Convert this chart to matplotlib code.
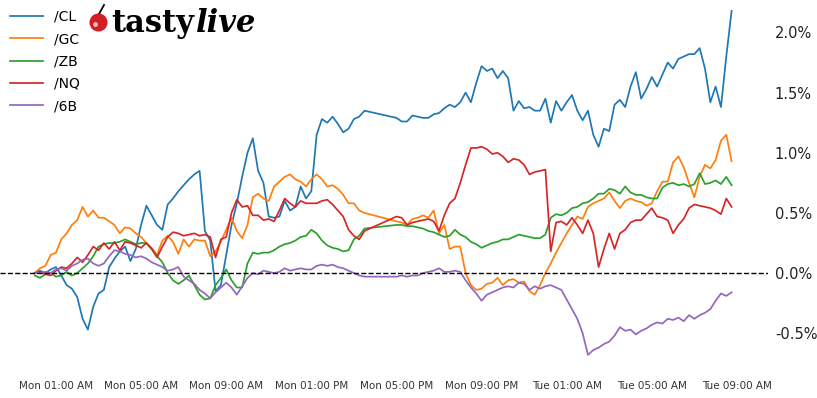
import numpy as np
import matplotlib
matplotlib.use('Agg')
import matplotlib.pyplot as plt
from matplotlib.ticker import FuncFormatter

# hours since Mon 00:00, with the daily break (no data between 15:30 and 17:00)
hours = np.concatenate([np.arange(0, 15.51, 0.25), np.arange(17, 32.76, 0.25)])

tick_hours = [1, 5, 9, 13, 17, 21, 25, 29, 33]
tick_labels = ['Mon 01:00 AM', 'Mon 05:00 AM', 'Mon 09:00 AM', 'Mon 01:00 PM',
               'Mon 05:00 PM', 'Mon 09:00 PM', 'Tue 01:00 AM', 'Tue 05:00 AM',
               'Tue 09:00 AM']

# percent change from start
cl = [0.00, 0.02, 0.00, 0.03, 0.05, -0.02, -0.10, -0.13, -0.20, -0.38,
      -0.47, -0.28, -0.17, -0.14, 0.05, 0.12, 0.18, 0.22, 0.10, 0.20,
      0.40, 0.56, 0.48, 0.40, 0.36, 0.57, 0.62, 0.68, 0.73, 0.78,
      0.82, 0.85, 0.35, 0.27, -0.15, -0.10, 0.15, 0.40, 0.58, 0.80,
      1.00, 1.12, 0.85, 0.75, 0.47, 0.46, 0.47, 0.60, 0.52, 0.55,
      0.72, 0.62, 0.68, 1.15, 1.28, 1.25, 1.30, 1.24, 1.17, 1.20,
      1.28, 1.30, 1.35,
      1.29, 1.26, 1.26, 1.31, 1.30, 1.29, 1.29, 1.32, 1.33, 1.37,
      1.40, 1.38, 1.42, 1.50, 1.42, 1.58, 1.72, 1.68, 1.70, 1.62,
      1.68, 1.62, 1.35, 1.43, 1.37, 1.38, 1.35, 1.35, 1.45, 1.25,
      1.43, 1.35, 1.42, 1.48, 1.35, 1.27, 1.35, 1.15, 1.05, 1.20,
      1.18, 1.40, 1.44, 1.38, 1.55, 1.67, 1.45, 1.53, 1.63, 1.55,
      1.65, 1.75, 1.70, 1.78, 1.80, 1.82, 1.82, 1.87, 1.70, 1.42,
      1.55, 1.38, 1.80, 2.18]

gc = [0.00, 0.04, 0.06, 0.15, 0.17, 0.28, 0.33, 0.40, 0.44, 0.55,
      0.47, 0.52, 0.46, 0.46, 0.43, 0.40, 0.33, 0.38, 0.37, 0.33,
      0.30, 0.25, 0.21, 0.15, 0.27, 0.31, 0.26, 0.16, 0.28, 0.22,
      0.28, 0.27, 0.27, 0.14, 0.18, 0.26, 0.36, 0.46, 0.35, 0.29,
      0.40, 0.63, 0.66, 0.62, 0.60, 0.72, 0.76, 0.80, 0.82, 0.78,
      0.76, 0.72, 0.78, 0.82, 0.78, 0.72, 0.73, 0.70, 0.65, 0.58,
      0.58, 0.52, 0.50,
      0.43, 0.42, 0.40, 0.45, 0.46, 0.48, 0.46, 0.52, 0.33, 0.40,
      0.20, 0.22, 0.22, 0.00, -0.10, -0.14, -0.13, -0.09, -0.08, -0.04,
      -0.10, -0.06, -0.05, -0.08, -0.07, -0.15, -0.18, -0.10, 0.00, 0.08,
      0.17, 0.25, 0.33, 0.40, 0.47, 0.45, 0.55, 0.58, 0.60, 0.62,
      0.67, 0.60, 0.54, 0.60, 0.62, 0.60, 0.59, 0.56, 0.58, 0.68,
      0.76, 0.76, 0.92, 0.97, 0.88, 0.75, 0.63, 0.80, 0.90, 0.87,
      0.94, 1.10, 1.15, 0.93]

zb = [-0.02, -0.04, -0.01, 0.00, -0.03, -0.02, 0.01, -0.02, 0.00, 0.04,
      0.08, 0.14, 0.22, 0.24, 0.25, 0.25, 0.26, 0.28, 0.26, 0.24,
      0.25, 0.25, 0.20, 0.14, 0.09, 0.00, -0.06, -0.09, -0.06, -0.02,
      -0.10, -0.18, -0.22, -0.21, -0.10, -0.04, 0.03, -0.06, -0.12, -0.12,
      0.08, 0.17, 0.16, 0.17, 0.17, 0.19, 0.22, 0.24, 0.25, 0.27,
      0.30, 0.31, 0.36, 0.33, 0.27, 0.23, 0.21, 0.20, 0.18, 0.19,
      0.28, 0.31, 0.37,
      0.40, 0.40, 0.39, 0.39, 0.38, 0.37, 0.35, 0.34, 0.32, 0.30,
      0.31, 0.36, 0.32, 0.30, 0.26, 0.24, 0.21, 0.23, 0.25, 0.26,
      0.28, 0.28, 0.30, 0.32, 0.31, 0.30, 0.29, 0.29, 0.32, 0.46,
      0.49, 0.48, 0.50, 0.54, 0.55, 0.58, 0.59, 0.62, 0.66, 0.66,
      0.70, 0.69, 0.66, 0.72, 0.67, 0.65, 0.65, 0.63, 0.62, 0.62,
      0.71, 0.74, 0.75, 0.73, 0.74, 0.72, 0.74, 0.83, 0.74, 0.75,
      0.77, 0.74, 0.80, 0.73]

nq = [0.00, 0.01, -0.01, -0.02, 0.02, 0.05, 0.04, 0.08, 0.13, 0.09,
      0.15, 0.22, 0.19, 0.25, 0.20, 0.26, 0.19, 0.26, 0.25, 0.23,
      0.21, 0.25, 0.20, 0.13, 0.22, 0.30, 0.34, 0.33, 0.31, 0.32,
      0.33, 0.31, 0.32, 0.30, 0.13, 0.28, 0.30, 0.50, 0.61, 0.55,
      0.56, 0.48, 0.48, 0.44, 0.45, 0.43, 0.52, 0.62, 0.58, 0.55,
      0.60, 0.58, 0.58, 0.58, 0.60, 0.61, 0.57, 0.52, 0.47, 0.36,
      0.31, 0.28, 0.35,
      0.47, 0.46, 0.40, 0.42, 0.43, 0.44, 0.45, 0.43, 0.35, 0.48,
      0.58, 0.62, 0.75, 0.90, 1.04, 1.04, 1.05, 1.03, 0.99, 1.00,
      0.97, 0.92, 0.95, 0.94, 0.90, 0.82, 0.84, 0.85, 0.86, 0.18,
      0.42, 0.43, 0.40, 0.46, 0.40, 0.33, 0.44, 0.33, 0.05, 0.20,
      0.33, 0.20, 0.33, 0.36, 0.42, 0.44, 0.44, 0.49, 0.54, 0.47,
      0.46, 0.44, 0.33, 0.40, 0.45, 0.54, 0.57, 0.56, 0.55, 0.54,
      0.52, 0.49, 0.62, 0.55]

b6 = [0.00, 0.00, 0.01, 0.00, 0.03, 0.04, 0.02, 0.06, 0.08, 0.11,
      0.12, 0.08, 0.06, 0.08, 0.14, 0.19, 0.18, 0.16, 0.15, 0.13,
      0.14, 0.12, 0.09, 0.07, 0.05, 0.02, 0.03, 0.05, -0.03, -0.06,
      -0.09, -0.14, -0.17, -0.21, -0.16, -0.12, -0.08, -0.12, -0.18, -0.11,
      -0.04, 0.00, -0.01, 0.02, 0.01, 0.00, 0.01, 0.04, 0.02, 0.03,
      0.04, 0.03, 0.03, 0.06, 0.07, 0.06, 0.07, 0.05, 0.04, 0.02,
      0.00, -0.02, -0.03,
      -0.03, -0.02, -0.03, -0.02, -0.02, 0.00, 0.01, 0.02, 0.04, 0.01,
      0.01, 0.02, 0.01, -0.06, -0.12, -0.17, -0.23, -0.18, -0.16, -0.14,
      -0.12, -0.11, -0.12, -0.08, -0.09, -0.14, -0.11, -0.13, -0.11, -0.10,
      -0.12, -0.14, -0.22, -0.30, -0.38, -0.50, -0.68, -0.64, -0.62, -0.59,
      -0.57, -0.52, -0.45, -0.48, -0.47, -0.51, -0.48, -0.46, -0.43, -0.41,
      -0.42, -0.38, -0.39, -0.37, -0.40, -0.35, -0.38, -0.35, -0.33, -0.30,
      -0.23, -0.17, -0.19, -0.16]

series = [('/CL', cl, 'tab:blue'), ('/GC', gc, 'tab:orange'), ('/ZB', zb, 'tab:green'),
          ('/NQ', nq, 'tab:red'), ('/6B', b6, 'tab:purple')]

fig = plt.figure(figsize=(8.17, 3.98), dpi=100)
ax = fig.add_axes([0.0, 0.06, 0.94, 0.94])

for name, vals, col in series:
    ax.plot(hours[:len(vals)], vals, color=col, lw=1.25, label=name)

ax.axhline(0, color='black', ls='--', lw=1)

ax.set_xlim(-1.63, 34.46)
ax.set_ylim(-0.84, 2.27)
for s in ax.spines.values():
    s.set_visible(False)

ax.yaxis.tick_right()
ax.set_yticks([-0.5, 0.0, 0.5, 1.0, 1.5, 2.0])
ax.yaxis.set_major_formatter(FuncFormatter(lambda v, p: f'{v:.1f}%'))
ax.tick_params(axis='y', length=0, labelsize=10.5, labelcolor='#222222', pad=5)
ax.set_xticks(tick_hours)
ax.set_xticklabels(tick_labels)
ax.tick_params(axis='x', length=0, labelsize=7.5, labelcolor='#333333', pad=5)

ax.legend(loc='upper left', frameon=False, fontsize=10, handlelength=2.4,
          labelspacing=0.6, borderaxespad=0.3, bbox_to_anchor=(0.0, 1.0))

# logo: cherry + wordmark
fig.lines.append(plt.Line2D([99 / 817, 104 / 817], [1 - 14 / 398, 1 - 5 / 398],
                            transform=fig.transFigure, color='black', lw=1.3))
fig.lines.append(plt.Line2D([98 / 817], [1 - 22 / 398], transform=fig.transFigure,
                            marker='o', markersize=12, color='#d21f26', lw=0))
fig.lines.append(plt.Line2D([95 / 817], [1 - 24 / 398], transform=fig.transFigure,
                            marker='o', markersize=2.5, color='#f5b5b5', lw=0))
t1 = fig.text(111 / 817, 1 - 32 / 398, 'tasty', fontsize=22, fontweight='bold',
              family='DejaVu Serif', color='black')
fig.canvas.draw()
bb = t1.get_window_extent()
fig.text(bb.x1 / 817 + 0.002, 1 - 32 / 398, 'live', fontsize=22, fontweight='bold',
         fontstyle='italic', family='DejaVu Serif', color='black')

fig.savefig('out.png', dpi=100)
